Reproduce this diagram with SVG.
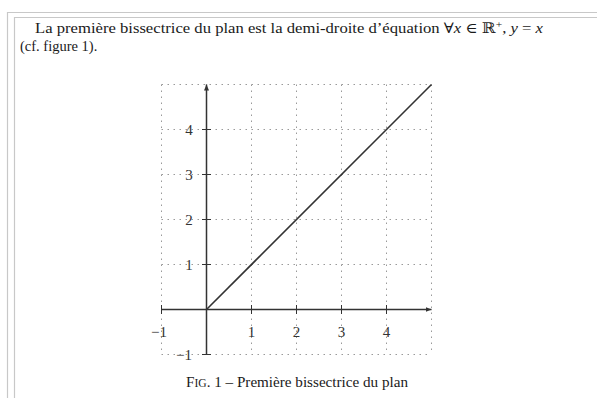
<svg xmlns="http://www.w3.org/2000/svg" width="597" height="398" viewBox="0 0 597 398">
<style>
.frame{fill:none;stroke:#c8c8c8;stroke-width:1.2}
.grid{stroke:#9a9a9a;stroke-width:1;stroke-dasharray:1.5 4.5;fill:none}
.axis{stroke:#333;stroke-width:1.5;fill:none}
.tick{stroke:#333;stroke-width:1}
.curve{stroke:#333;stroke-width:1.6;fill:none}
.t{font-family:"Liberation Serif","DejaVu Serif",serif;fill:#1a1a1a}
.lbl{font-family:"Liberation Serif","DejaVu Serif",serif;font-size:15px;fill:#333;text-anchor:middle}
.it{font-style:italic}
</style>
<defs>
<marker id="arr" markerWidth="8" markerHeight="8" refX="6" refY="4" orient="auto" markerUnits="userSpaceOnUse">
<path d="M0,1.5 L6,4 L0,6.5 Z" fill="#333"/>
</marker>
</defs>
<rect width="597" height="398" fill="#fff"/>
<g id="frame">
<path class="frame" d="M597,12.5 H7.5 V398"/>
<path class="frame" d="M597,17.5 H14.5 V398"/>
</g>
<g id="header">
<text class="t" x="35" y="33" font-size="14.5" textLength="508" lengthAdjust="spacingAndGlyphs">La première bissectrice du plan est la demi-droite d’équation ∀<tspan class="it">x</tspan> ∈ <tspan font-family="DejaVu Serif">ℝ</tspan><tspan dy="-5" font-size="10">+</tspan><tspan dy="5">, </tspan><tspan class="it">y</tspan> = <tspan class="it">x</tspan></text>
<text class="t" x="20" y="51" font-size="14.5">(cf. figure 1).</text>
</g>
<g id="grid">
<path class="grid" d="M161.5,84.5 V354.5 M206.5,84.5 V354.5 M251.5,84.5 V354.5 M296.5,84.5 V354.5 M341.5,84.5 V354.5 M386.5,84.5 V354.5 M431.5,84.5 V354.5"/>
<path class="grid" d="M161.5,84.5 H431.5 M161.5,129.5 H431.5 M161.5,174.5 H431.5 M161.5,219.5 H431.5 M161.5,264.5 H431.5 M161.5,309.5 H431.5 M161.5,354.5 H431.5"/>
</g>
<g id="connectors">
<line class="axis" x1="161.5" y1="309.5" x2="431.5" y2="309.5" marker-end="url(#arr)"/>
<line class="axis" x1="206.5" y1="354.5" x2="206.5" y2="84.5" marker-end="url(#arr)"/>
<path class="tick" d="M161.5,305 V314 M251.5,305 V314 M296.5,305 V314 M341.5,305 V314 M386.5,305 V314"/>
<path class="tick" d="M202,129.5 H211 M202,174.5 H211 M202,219.5 H211 M202,264.5 H211 M202,354.5 H211"/>
<line class="curve" x1="206.5" y1="309.5" x2="431.5" y2="84.5"/>
</g>
<g id="labels">
<text class="lbl" x="159" y="337">−1</text>
<text class="lbl" x="251.5" y="337">1</text>
<text class="lbl" x="296.5" y="337">2</text>
<text class="lbl" x="341.5" y="337">3</text>
<text class="lbl" x="386.5" y="337">4</text>
<text class="lbl" x="189" y="135">4</text>
<text class="lbl" x="189" y="180">3</text>
<text class="lbl" x="189" y="225">2</text>
<text class="lbl" x="189" y="270">1</text>
<text class="lbl" x="184" y="360">−1</text>
</g>
<g id="caption">
<text class="t" x="297" y="387" font-size="15" text-anchor="middle" textLength="222" lengthAdjust="spacingAndGlyphs">F<tspan font-size="11.5">IG</tspan>. 1 – Première bissectrice du plan</text>
</g>
</svg>
